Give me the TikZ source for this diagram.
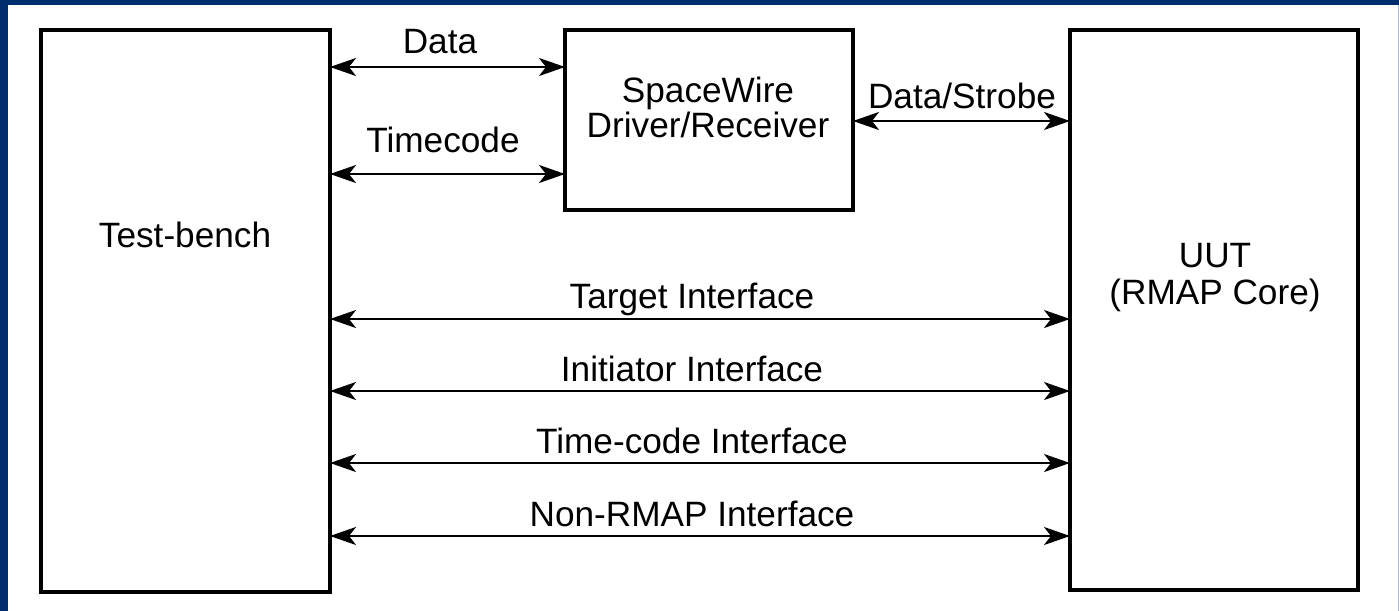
\documentclass[tikz,border=0pt]{standalone}
\usepackage{fontspec}
\setmainfont{Liberation Sans}
\usetikzlibrary{arrows.meta}
\definecolor{frameblue}{RGB}{0,45,110}
\definecolor{edgegray}{RGB}{176,186,210}
\tikzset{
  blk/.style={draw=black, line width=1.6pt, fill=white, inner sep=0pt, outer sep=0pt},
  lbl/.style={anchor=base, inner sep=0pt, font=\fontsize{17.6pt}{18pt}\selectfont},
  arr/.style={line width=1.2pt, {Stealth[length=13pt,width=9pt,inset=3.5pt]}-{Stealth[length=13pt,width=9pt,inset=3.5pt]}}
}
\begin{document}
\begin{tikzpicture}[x=0.5pt,y=-0.5pt]
\useasboundingbox (0,0) rectangle (1399,611);
\fill[white] (0,0) rectangle (1399,611);
\fill[frameblue] (0,0) rectangle (8,611);
\fill[frameblue] (0,0) rectangle (1399,4.5);
\fill[edgegray] (1397.5,4.5) rectangle (1399,611);

% boxes (sizes in pt = px/2)
\node[blk, minimum width=144.5pt, minimum height=281pt, anchor=north west] (tb) at (41,30) {};
\node[blk, minimum width=144pt, minimum height=90pt, anchor=north west] (sw) at (565,30) {};
\node[blk, minimum width=144pt, minimum height=280pt, anchor=north west] (uut) at (1070,30) {};

% box texts
\node[lbl] (tbt) at (185,247) {Test-bench};
\node[lbl] (swa) at (708,102) {SpaceWire};
\node[lbl] (swb) at (708,137) {Driver/Receiver};
\node[lbl] (uuta) at (1215,267) {UUT};
\node[lbl] (uutb) at (1215,304) {(RMAP Core)};

% levels
\coordinate (yData) at (0,67);
\coordinate (yTime) at (0,174);
\coordinate (yDS) at (0,121);
\coordinate (yT) at (0,319);
\coordinate (yI) at (0,391);
\coordinate (yTC) at (0,463);
\coordinate (yN) at (0,536);

% connectors
\draw[arr] (tb.east |- yData) -- (sw.west |- yData);
\draw[arr] (tb.east |- yTime) -- (sw.west |- yTime);
\draw[arr] (sw.east |- yDS) -- (uut.west |- yDS);
\draw[arr] (tb.east |- yT) -- (uut.west |- yT);
\draw[arr] (tb.east |- yI) -- (uut.west |- yI);
\draw[arr] (tb.east |- yTC) -- (uut.west |- yTC);
\draw[arr] (tb.east |- yN) -- (uut.west |- yN);

% connector labels
\node[lbl] (ldata) at (440,53) {Data};
\node[lbl] (ltime) at (443,152) {Timecode};
\node[lbl] (lds) at (962,108) {Data/Strobe};
\node[lbl] (lt) at (692,308) {Target Interface};
\node[lbl] (li) at (692,381) {Initiator Interface};
\node[lbl] (ltc) at (692,453) {Time-code Interface};
\node[lbl] (ln) at (692,526) {Non-RMAP Interface};
\end{tikzpicture}
\end{document}
